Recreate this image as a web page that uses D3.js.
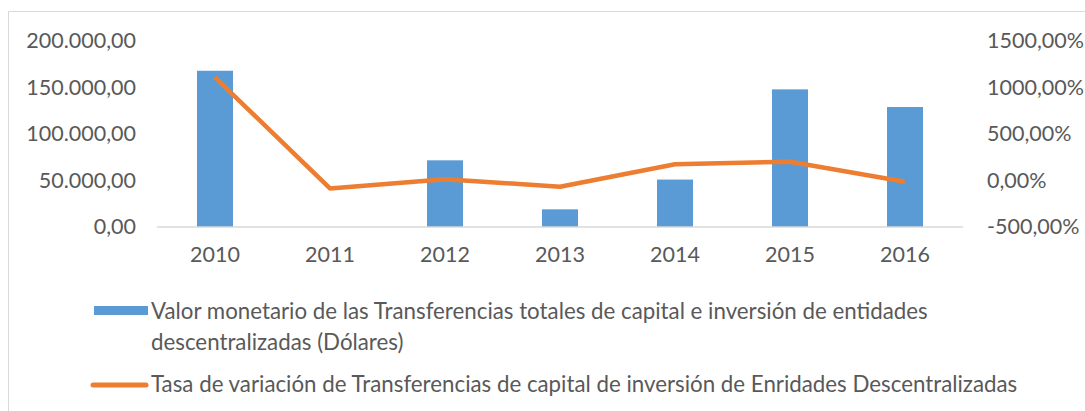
<!DOCTYPE html>
<html>
<head>
<meta charset="utf-8">
<script src="https://cdn.jsdelivr.net/npm/d3@7.9.0/dist/d3.min.js"></script>
<style>
  html, body { margin: 0; padding: 0; background: #fff; }
  svg { display: block; font-family: Lato, "Open Sans", sans-serif; }
</style>
</head>
<body>
<svg id="chart" width="1085" height="411"></svg>
<script>
const years = ['2010', '2011', '2012', '2013', '2014', '2015', '2016'];
const montos = [168000, 0, 71700, 19000, 51000, 148000, 129000];
const tasas = [1110, -85, 13, -67, 174, 202, -13];
const leftTicks = [0, 50000, 100000, 150000, 200000];
const rightTicks = [-500, 0, 500, 1000, 1500];
const legendBar = ['Valor monetario de las Transferencias totales de capital e inversión de entidades', 'descentralizadas (Dólares)'];
const legendLine = 'Tasa de variación de Transferencias de capital de inversión de Enridades Descentralizadas';

const blue = '#5b9bd5';
const orange = '#ed7d31';
const grey = '#595959';

const locale = d3.formatLocale({ decimal: ',', thousands: '.', grouping: [3], currency: ['', ''], minus: '-' });
const fmtLeft = locale.format(',.2f');
const fmtRight = (v) => locale.format('.2f')(v) + '%';

const svg = d3.select('#chart');

// chart border (only top and left visible in the crop)
svg.append('path')
  .attr('d', 'M8.5,420 V11.5 H1100')
  .attr('fill', 'none')
  .attr('stroke', '#d9d9d9')
  .attr('stroke-width', 1);

const x = d3.scaleBand()
  .domain(years)
  .range([157.5, 962.5])
  .paddingInner(0.687)
  .paddingOuter(0.3435);

const yLeft = d3.scaleLinear().domain([0, 200000]).range([227, 41]);
const yRight = d3.scaleLinear().domain([-500, 1500]).range([227, 41]);

// bars
svg.append('g')
  .selectAll('rect')
  .data(montos)
  .join('rect')
  .attr('x', (d, i) => x(years[i]))
  .attr('y', (d) => yLeft(d))
  .attr('width', x.bandwidth())
  .attr('height', (d) => yLeft(0) - yLeft(d))
  .attr('fill', blue);

// category axis line
svg.append('line')
  .attr('x1', 157).attr('x2', 963)
  .attr('y1', yLeft(0)).attr('y2', yLeft(0))
  .attr('stroke', '#d9d9d9')
  .attr('stroke-width', 1.5);

// left axis
const axisL = svg.append('g')
  .attr('transform', 'translate(136,0)')
  .call(d3.axisLeft(yLeft).tickValues(leftTicks).tickFormat(fmtLeft).tickSize(0).tickPadding(0));
axisL.select('.domain').remove();
axisL.selectAll('text').attr('fill', grey).style('font-size', '21.5px').style('font-family', 'Lato, sans-serif');

// right axis
const axisR = svg.append('g')
  .attr('transform', 'translate(987,0)')
  .call(d3.axisRight(yRight).tickValues(rightTicks).tickFormat(fmtRight).tickSize(0).tickPadding(0));
axisR.select('.domain').remove();
axisR.selectAll('text').attr('fill', grey).style('font-size', '21.5px').style('font-family', 'Lato, sans-serif');

// bottom labels
const axisB = svg.append('g')
  .attr('transform', `translate(0,${yLeft(0)})`)
  .call(d3.axisBottom(x).tickSize(0).tickPadding(20));
axisB.select('.domain').remove();
axisB.selectAll('text').attr('fill', grey).style('font-size', '21.5px').style('font-family', 'Lato, sans-serif');

// line
const line = d3.line()
  .x((d, i) => x(years[i]) + x.bandwidth() / 2)
  .y((d) => yRight(d));

svg.append('path')
  .datum(tasas)
  .attr('d', line)
  .attr('fill', 'none')
  .attr('stroke', orange)
  .attr('stroke-width', 4.5)
  .attr('stroke-linejoin', 'round');

// legend
const legend = svg.append('g');
legend.append('rect')
  .attr('x', 94).attr('y', 306).attr('width', 54).attr('height', 9)
  .attr('fill', blue);
legend.selectAll('text.bar')
  .data(legendBar)
  .join('text')
  .attr('class', 'bar')
  .attr('x', 151)
  .attr('y', (d, i) => 319 + i * 31)
  .attr('fill', grey)
  .style('font-size', '22.3px')
  .text((d) => d);

legend.append('line')
  .attr('x1', 93).attr('x2', 146).attr('y1', 385).attr('y2', 385)
  .attr('stroke', orange).attr('stroke-width', 5).attr('stroke-linecap', 'round');
legend.append('text')
  .attr('x', 151).attr('y', 392)
  .attr('fill', grey)
  .style('font-size', '22.3px')
  .text(legendLine);
</script>
</body>
</html>
